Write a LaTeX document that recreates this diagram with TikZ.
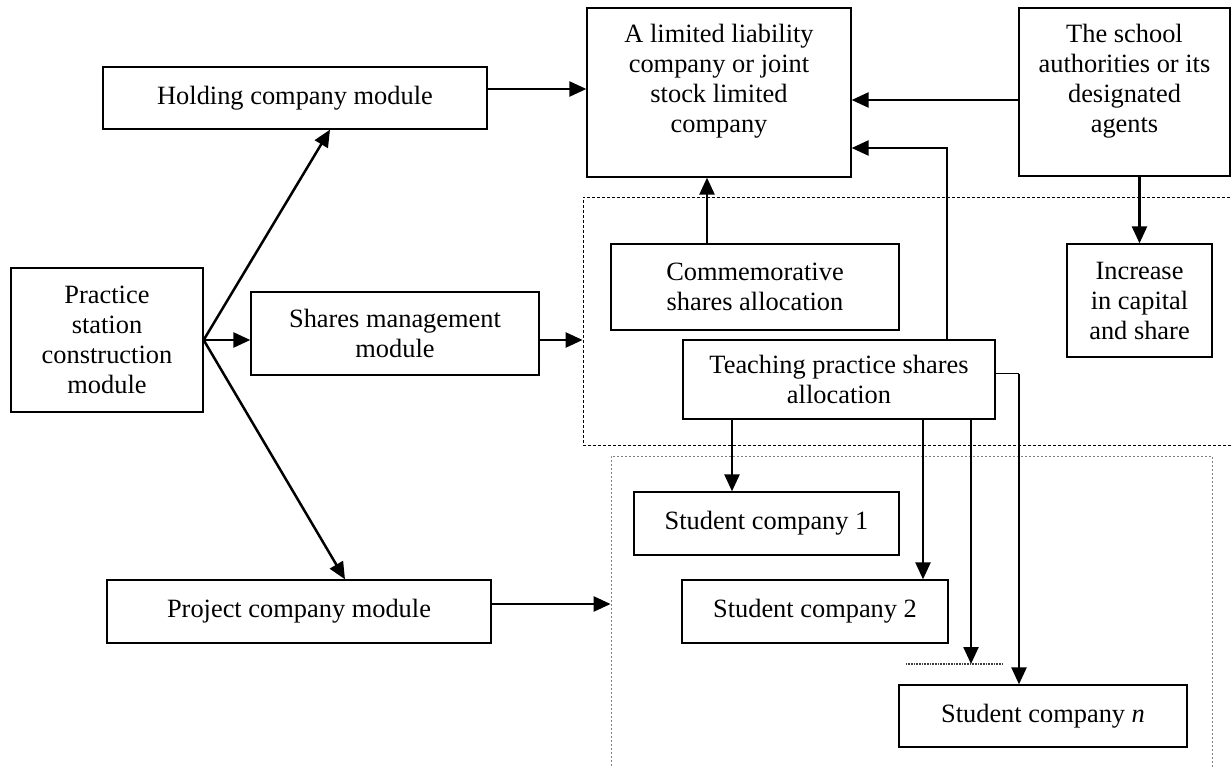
\documentclass[tikz,border=0pt]{standalone}
\usepackage{fontspec}
\setmainfont{Liberation Serif}
\usetikzlibrary{arrows.meta}
\usetikzlibrary{decorations.markings}
\tikzset{flow/.style = {line width=2.5pt, shorten >=5pt,
                        decoration={markings,
                                    mark=at position 1 with {\arrow{Triangle[length=17pt,width=15pt]}}},
                        postaction={decorate}}}
\tikzset{box/.style = {draw, line width=1.3pt, inner sep=0pt, align=center,
                       font=\fontsize{26.4}{30}\selectfont}}
\tikzset{toptext/.style = {inner sep=0pt, align=center, anchor=north, yshift=-17pt,
                           font=\fontsize{26.4}{30}\selectfont}}
\tikzset{zone/.style = {draw, line width=0.8pt, dash pattern=on 3pt off 2pt, inner sep=0pt}}

\begin{document}
\begin{tikzpicture}[x=1pt, y=-1pt]
      \useasboundingbox (0,0) rectangle (1232,767);
      \clip (0,0) rectangle (1232,767);
      \node[zone, minimum width=662pt, minimum height=248pt] (zone1) at (914,321) {};
      \node[zone, gray, dash pattern=on 2pt off 2pt, minimum width=601pt, minimum height=334pt] (zone2) at (911.5,623) {};
      \node[box, minimum width=192pt, minimum height=144pt] (prac) at (107,340) {Practice\\station\\construction\\module};
      \node[box, minimum width=384pt, minimum height=62pt] (hold) at (295,98) {Holding company module};
      \node[box, minimum width=288pt, minimum height=83pt] (shar) at (395,333.5) {Shares management\\module};
      \node[box, minimum width=384pt, minimum height=63pt] (proj) at (299,611.5) {Project company module};
      \node[box, minimum width=264pt, minimum height=169pt,
            label={[toptext]north:{A limited liability\\company or joint\\stock limited\\company}}] (ltd) at (719,92.5) {};
      \node[box, minimum width=211pt, minimum height=168pt,
            label={[toptext]north:{The school\\authorities or its\\designated\\agents}}] (school) at (1124.5,92) {};
      \node[box, minimum width=288pt, minimum height=86pt] (comm) at (755,287) {Commemorative\\shares allocation};
      \node[box, minimum width=145pt, minimum height=113pt] (incr) at (1139.5,300.5) {Increase\\in capital\\and share};
      \node[box, minimum width=312pt, minimum height=79pt] (teach) at (839,379.5) {Teaching practice shares\\allocation};
      \node[box, minimum width=265pt, minimum height=63pt] (stu1) at (766.5,523.5) {Student company 1};
      \node[box, minimum width=266pt, minimum height=63pt] (stu2) at (815,611.5) {Student company 2};
      \node[box, minimum width=288pt, minimum height=62pt] (stun) at (1043,716) {Student company \textit{n}};
      \coordinate (gapL) at (906,664);
      \coordinate (gapR) at (1003,664);
      \coordinate (bend) at (1019,374);
      \draw [line width=1.5pt, gray!50!black, dash pattern=on 1pt off 0.6pt] (gapL) -- (gapR);
      \draw [flow] (prac.east) -- ([xshift=35pt]hold.south);
      \draw [flow] (prac.east) -- (prac.east -| shar.west);
      \draw [flow] (prac.east) -- ([xshift=46pt]proj.north);
      \draw [flow] ([yshift=9pt]hold.east) -- ([yshift=9pt]hold.east -| ltd.west);
      \draw [flow] (prac.east -| shar.east) -- (prac.east -| zone1.west);
      \draw [flow] ([yshift=7.5pt]proj.east) -- ([yshift=7.5pt]proj.east -| zone2.west);
      \draw [flow] ([xshift=-48pt]comm.north) -- ([xshift=-48pt]comm.north |- ltd.south);
      \draw [flow] ([yshift=-8pt]school.west) -- ([yshift=-8pt]school.west -| ltd.east);
      \draw [flow] ([xshift=108pt]teach.north) |- ([yshift=-55.5pt]ltd.east);
      \draw [flow] (school.south -| incr.north) -- (incr.north);
      \draw [flow] (teach.south -| 732,0) -- (stu1.north -| 732,0);
      \draw [flow] (teach.south -| 923,0) -- (stu2.north -| 923,0);
      \draw [flow] (teach.south -| 971,0) -- (gapL -| 971,0);
      \draw [line width=1pt] ([yshift=5.5pt]teach.east) -- (bend);
      \draw [flow] (bend) -- (stun.north -| bend);
    \end{tikzpicture}
\end{document}
